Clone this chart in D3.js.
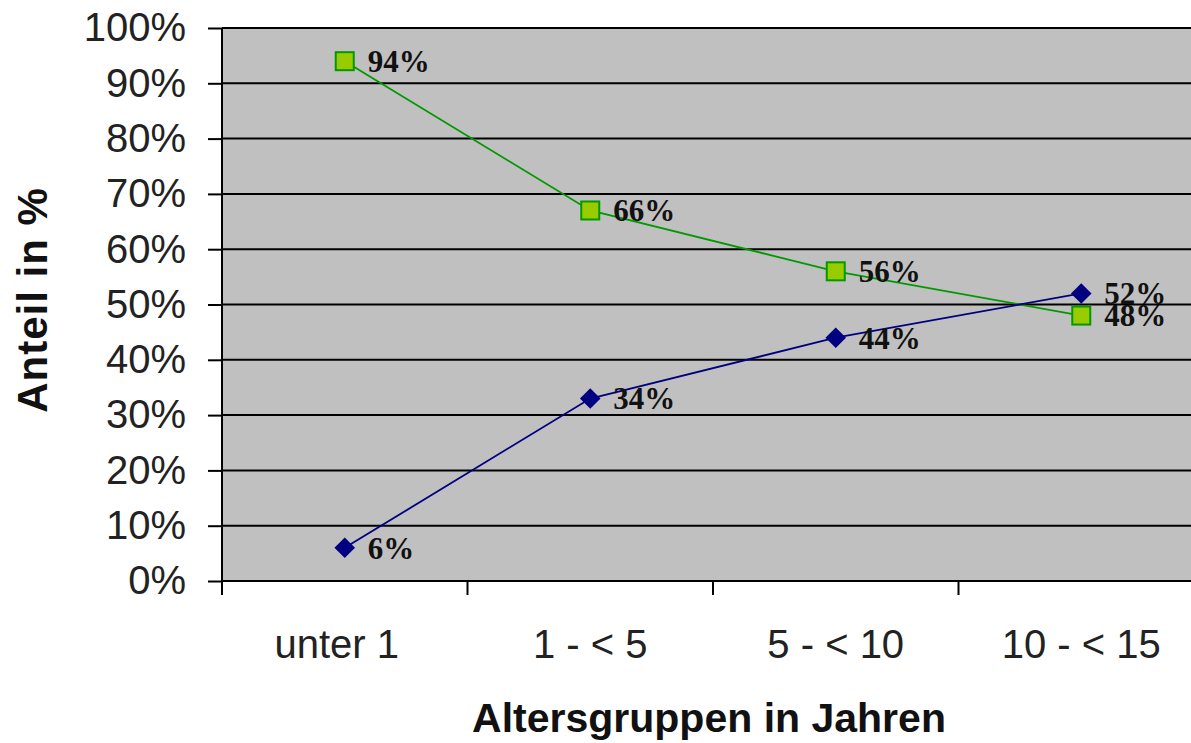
<!DOCTYPE html>
<html>
<head>
<meta charset="utf-8">
<script src="https://cdn.jsdelivr.net/npm/d3@7"></script>
<style>
  body { margin: 0; background: #fff; }
  svg { display: block; }
</style>
</head>
<body>
<script>
// data
const ageGroups = ["unter 1", "1 - < 5", "5 - < 10", "10 - < 15"];
const blueValues = [6, 33, 44, 52];
const blueLabels = ["6%", "34%", "44%", "52%"];
const greenValues = [94, 67, 56, 48];
const greenLabels = ["94%", "66%", "56%", "48%"];
const yTicks = [0, 10, 20, 30, 40, 50, 60, 70, 80, 90, 100];

const width = 1191, height = 743;
const plotLeft = 222, plotRight = 1204, plotTop = 28, plotBottom = 581;

let svg = d3.select("body")
    .append("svg")
        .attr("width", width)
        .attr("height", height);

let xScale = d3.scaleBand()
    .domain(ageGroups)
    .range([plotLeft, plotRight])
    .padding(0);

let yScale = d3.scaleLinear()
    .domain([0, 100])
    .range([plotBottom, plotTop]);

// grey plot area
svg.append("rect")
    .attr("x", plotLeft)
    .attr("y", plotTop)
    .attr("width", plotRight - plotLeft)
    .attr("height", plotBottom - plotTop)
    .attr("fill", "#c0c0c0");

// horizontal grid
svg.append("g")
    .selectAll("line")
    .data(yTicks)
    .enter()
        .append("line")
        .attr("x1", plotLeft)
        .attr("x2", plotRight)
        .attr("y1", d => yScale(d))
        .attr("y2", d => yScale(d))
        .attr("stroke", "#000")
        .attr("stroke-width", 2);

// y axis
let yAxis = d3.axisLeft(yScale)
    .tickValues(yTicks)
    .tickSize(14)
    .tickPadding(22)
    .tickFormat(d => d + "%");

let gy = svg.append("g")
    .attr("transform", `translate(${plotLeft}, 0)`)
    .call(yAxis);
gy.select(".domain").attr("stroke-width", 2).attr("d", `M0,${plotTop}V${plotBottom}`);
gy.selectAll(".tick line").attr("stroke-width", 2);
gy.selectAll(".tick text")
    .attr("font-family", "Liberation Sans, Arial, sans-serif")
    .attr("font-size", 40)
    .attr("fill", "#222");

// x axis: ticks between categories
let xEdges = ageGroups.map(d => xScale(d)).concat([plotRight]);
svg.append("line")
    .attr("x1", plotLeft).attr("x2", plotRight)
    .attr("y1", plotBottom).attr("y2", plotBottom)
    .attr("stroke", "#000").attr("stroke-width", 2);
svg.append("g")
    .selectAll("line")
    .data(xEdges)
    .enter()
        .append("line")
        .attr("x1", d => d).attr("x2", d => d)
        .attr("y1", plotBottom).attr("y2", plotBottom + 14)
        .attr("stroke", "#000").attr("stroke-width", 2);

svg.append("g")
    .selectAll("text")
    .data(ageGroups)
    .enter()
        .append("text")
        .attr("x", (d, i) => xScale(d) + xScale.bandwidth() / 2 - (i === 0 ? 8 : 0))
        .attr("y", 658)
        .attr("text-anchor", "middle")
        .attr("font-family", "Liberation Sans, Arial, sans-serif")
        .attr("font-size", 40)
        .attr("fill", "#222")
        .text(d => d);

// axis titles
svg.append("text")
    .attr("x", 709)
    .attr("y", 732)
    .attr("text-anchor", "middle")
    .attr("font-family", "Liberation Sans, Arial, sans-serif")
    .attr("font-weight", "bold")
    .attr("font-size", 41)
    .attr("fill", "#111")
    .text("Altersgruppen in Jahren");

svg.append("text")
    .attr("transform", "translate(47, 300) rotate(-90)")
    .attr("text-anchor", "middle")
    .attr("font-family", "Liberation Sans, Arial, sans-serif")
    .attr("font-weight", "bold")
    .attr("font-size", 42)
    .attr("letter-spacing", 1)
    .attr("fill", "#111")
    .text("Anteil in %");

let cx = i => xScale(ageGroups[i]) + xScale.bandwidth() / 2;
let line = d3.line()
    .x((d, i) => cx(i))
    .y(d => yScale(d));

// green series (squares)
svg.append("path")
    .attr("d", line(greenValues))
    .attr("fill", "none")
    .attr("stroke", "#009900")
    .attr("stroke-width", 1.8);
svg.append("g")
    .selectAll("rect")
    .data(greenValues)
    .enter()
        .append("rect")
        .attr("x", (d, i) => cx(i) - 9)
        .attr("y", d => yScale(d) - 9)
        .attr("width", 18)
        .attr("height", 18)
        .attr("fill", "#99cc00")
        .attr("stroke", "#009900")
        .attr("stroke-width", 2);

// blue series (diamonds)
svg.append("path")
    .attr("d", line(blueValues))
    .attr("fill", "none")
    .attr("stroke", "#000080")
    .attr("stroke-width", 1.8);
let diamond = d3.symbol().type(d3.symbolDiamond2).size(270);
svg.append("g")
    .selectAll("path")
    .data(blueValues)
    .enter()
        .append("path")
        .attr("d", diamond)
        .attr("transform", (d, i) => `translate(${cx(i)}, ${yScale(d)})`)
        .attr("fill", "#000080");

// data labels
function addLabels(values, labels) {
    svg.append("g")
        .selectAll("text")
        .data(values)
        .enter()
            .append("text")
            .attr("x", (d, i) => cx(i) + 23)
            .attr("y", d => yScale(d))
            .attr("dy", "0.35em")
            .attr("font-family", "Liberation Serif, Times New Roman, serif")
            .attr("font-weight", "bold")
            .attr("font-size", 31)
            .attr("fill", "#111")
            .text((d, i) => labels[i]);
}
addLabels(greenValues, greenLabels);
addLabels(blueValues, blueLabels);
</script>
</body>
</html>
